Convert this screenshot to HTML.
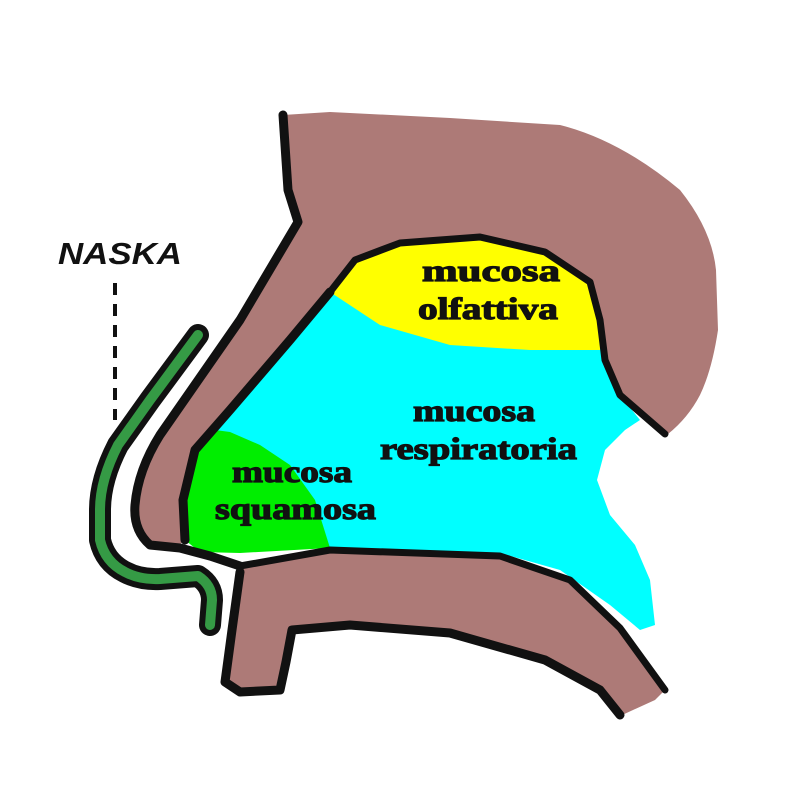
<!DOCTYPE html>
<html><head><style>body{margin:0;background:#fff}</style></head><body>
<svg width="800" height="800" viewBox="0 0 800 800" xmlns="http://www.w3.org/2000/svg">
<rect width="800" height="800" fill="#fff"/>
<!-- cyan cavity -->
<path d="M330,292 L290,340 L230,410 L195,450 L183,500 L185,540 L200,552 L330,548 L500,553 L560,570 L610,605 L640,630 L655,625 L650,580 L635,545 L610,515 L597,480 L605,450 L625,430 L640,420 L620,395 L605,360 L600,345 Z" fill="#00ffff"/>
<!-- green squamosa -->
<path d="M230,432 L260,445 L290,465 L315,500 L330,548 L240,553 L200,552 L185,540 L183,500 L195,450 L215,430 Z" fill="#00ee00"/>
<!-- yellow -->
<path d="M330,292 L355,260 L400,243 L480,237 L545,252 L590,282 L600,320 L600,350 L530,350 L450,345 L380,325 Z" fill="#ffff00"/>
<!-- upper brown -->
<path d="M283,115 L330,112 L450,118 L560,125 Q620,140 680,190 Q712,230 716,270 L718,330 Q712,370 700,395 Q688,418 668,434 L620,395 L603,350 L597,300 L580,272 L545,252 L480,237 L400,243 L355,260 L330,292 L290,340 L230,410 L195,450 L183,500 L185,540 L175,548 L150,545 Q133,530 135,505 Q138,470 160,435 L240,320 L298,228 L288,190 Z" fill="#ad7a77"/>
<!-- palate brown -->
<path d="M238,566 L330,550 L500,556 L570,580 L620,628 L665,690 L655,700 L620,716 L600,690 L545,660 L450,633 L350,625 L292,630 L286,662 L280,690 L240,692 L225,682 L232,630 Z" fill="#ad7a77"/>
<g fill="none" stroke="#111" stroke-width="9" stroke-linecap="round" stroke-linejoin="round">
<path d="M283,115 L288,190 L298,222 L240,320 L160,435 Q138,470 135,505 Q133,530 150,545 L180,548 L210,556 L240,566"/>
<path d="M330,292 L290,340 L230,410 L195,450 L183,500 L185,540"/>
<path d="M330,292 L355,260 L400,243 L480,237 L545,252 L590,282 L600,320 L605,360 L620,395 L665,434" stroke-width="7"/>
<path d="M240,566 L330,550 L500,556 L570,580 L620,628 L665,690" stroke-width="7"/>
<path d="M620,715 L600,690 L545,660 L450,633 L350,625 L292,630 L286,662 L280,690 L240,692 L225,682 L232,630 L240,572"/>
</g>
<!-- green skin -->
<path d="M198,335 L150,400 L118,445 Q100,480 100,510 L100,540 Q105,562 125,572 Q140,580 160,579 L198,576 Q212,585 212,600 L210,625" fill="none" stroke="#111" stroke-width="22" stroke-linecap="round" stroke-linejoin="round"/>
<path d="M198,335 L150,400 L118,445 Q100,480 100,510 L100,540 Q105,562 125,572 Q140,580 160,579 L198,576 Q212,585 212,600 L210,625" fill="none" stroke="#359a45" stroke-width="10" stroke-linecap="round" stroke-linejoin="round"/>
<line x1="115" y1="283" x2="115" y2="420" stroke="#111" stroke-width="4" stroke-dasharray="12,9"/>
<text x="58" y="264" textLength="124" lengthAdjust="spacingAndGlyphs" font-family="Liberation Sans, sans-serif" font-weight="bold" font-style="italic" font-size="31" fill="#111">NASKA</text>
<g font-family="Liberation Serif, serif" font-weight="bold" font-size="31" fill="#111" lengthAdjust="spacingAndGlyphs" stroke="#111" stroke-width="1.2">
<text x="422" y="281" textLength="138" lengthAdjust="spacingAndGlyphs">mucosa</text>
<text x="418" y="319" textLength="140" lengthAdjust="spacingAndGlyphs">olfattiva</text>
<text x="413" y="421" textLength="122" lengthAdjust="spacingAndGlyphs">mucosa</text>
<text x="380" y="459" textLength="197" lengthAdjust="spacingAndGlyphs">respiratoria</text>
<text x="232" y="482" textLength="120" lengthAdjust="spacingAndGlyphs">mucosa</text>
<text x="215" y="519" textLength="161" lengthAdjust="spacingAndGlyphs">squamosa</text>
</g>
</svg>
</body></html>
